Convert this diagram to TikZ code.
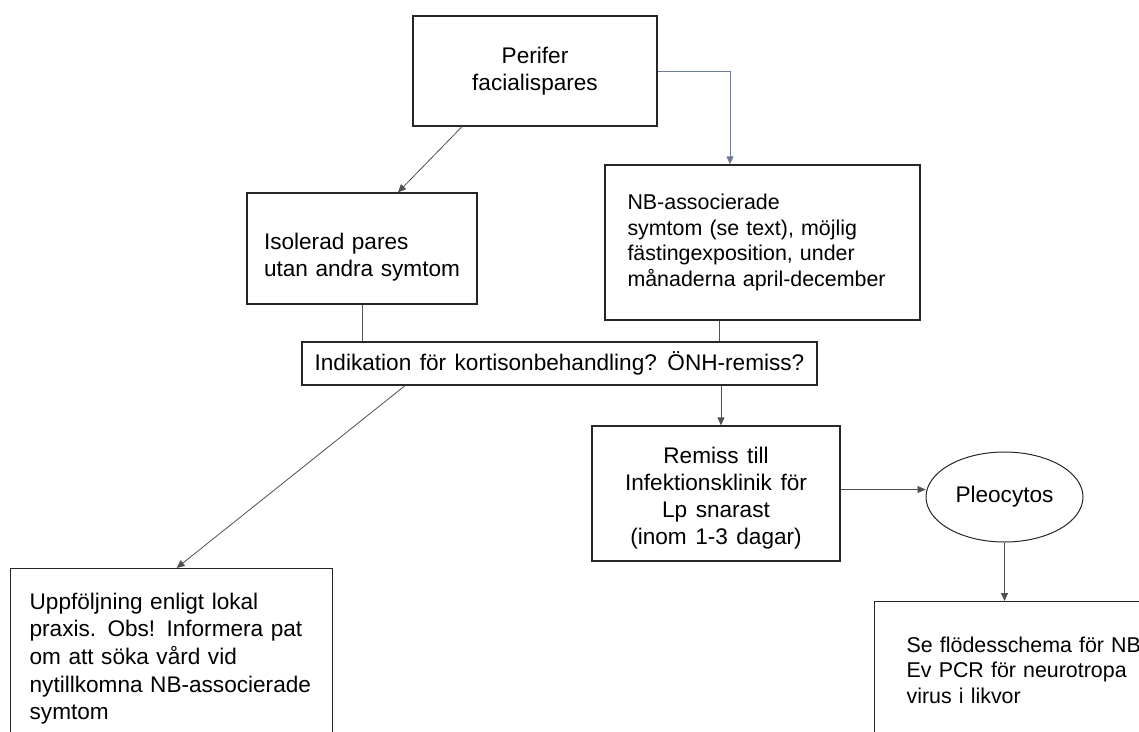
\documentclass[tikz,border=0pt]{standalone}
\usepackage{fontspec}
\setmainfont{Liberation Sans}[WordSpace=1.35]
\usetikzlibrary{arrows.meta}
\usetikzlibrary{shapes.geometric}

\definecolor{linkgray}{RGB}{80,80,80}
\definecolor{linkblue}{RGB}{110,122,150}

\newcommand{\topgap}[1]{\rule{0pt}{#1}}

\tikzset{
  box/.style={draw=black!85, line width=1.3pt, font=\fontsize{22.6}{27}\selectfont},
  smalltext/.style={font=\fontsize{21.4}{25.5}\selectfont},
  midbox/.style={box, align=center, inner sep=0pt},
  leftbox/.style={box, align=left},
  link/.style={draw=linkgray, line width=0.8pt},
  arr/.style={link, -{Triangle[length=8pt, width=7pt]}},
}

\begin{document}
\begin{tikzpicture}[x=1pt, y=-1pt]
\clip (0,0) rectangle (1139,731);

%draw boxes
\node[midbox, minimum width=244pt, minimum height=110pt] (perifer) at (535,71) {Perifer\\facialispares};
\node[leftbox, text width=196pt, inner xsep=17pt, minimum height=111pt] (isolerad) at (362,248.5) {\topgap{34pt}Isolerad pares\\utan andra symtom};
\node[leftbox, smalltext, text width=270pt, inner xsep=22.5pt, minimum height=155pt] (nbsymtom) at (762.5,242.5) {NB-associerade\\symtom (se text), möjlig\\fästingexposition, under\\månaderna april-december};
\node[midbox, minimum width=515pt, minimum height=43pt] (indikation) at (559.5,363.5) {Indikation för kortisonbehandling? ÖNH-remiss?};
\node[midbox, minimum width=248pt, minimum height=135pt] (remiss) at (716,493.5) {\topgap{26pt}Remiss till\\Infektionsklinik för\\Lp snarast\\(inom 1-3 dagar)};
\node[box, ellipse, line width=1pt, inner sep=0pt, minimum width=157pt, minimum height=90pt] (pleocytos) at (1004.5,497) {Pleocytos};
\node[leftbox, anchor=north west, text width=284pt, inner xsep=19pt, inner ysep=24pt, font=\fontsize{22.6}{27.7}\selectfont] (uppfoljning) at (10,568) {Uppföljning enligt lokal\\praxis. Obs! Informera pat\\om att söka vård vid\\nytillkomna NB-associerade\\symtom};
\node[leftbox, smalltext, anchor=north west, text width=260pt, inner xsep=32pt, inner ysep=35pt] (flodes) at (874,601) {Se flödesschema för NB\\Ev PCR för neurotropa\\virus i likvor};

%draw connectors
\draw[arr] ([xshift=-73pt]perifer.south) -- ([xshift=36pt]isolerad.north);
\draw[arr, draw=linkblue] (perifer.east) -| ([xshift=-32.5pt]nbsymtom.north);
\draw[link] (isolerad.south) -- (isolerad.south |- indikation.north);
\draw[link] ([xshift=-43.5pt]nbsymtom.south) -- ([xshift=-43.5pt]nbsymtom.south |- indikation.north);
\draw[arr] ([xshift=5pt]remiss.north |- indikation.south) -- ([xshift=5pt]remiss.north);
\draw[arr] ([xshift=-154.5pt]indikation.south) -- ([xshift=5pt]uppfoljning.north);
\draw[arr] ([yshift=4pt]remiss.east) -- ([yshift=4pt]remiss.east -| pleocytos.west);
\draw[arr] (pleocytos.south) -- (pleocytos.south |- flodes.north);

\end{tikzpicture}
\end{document}
